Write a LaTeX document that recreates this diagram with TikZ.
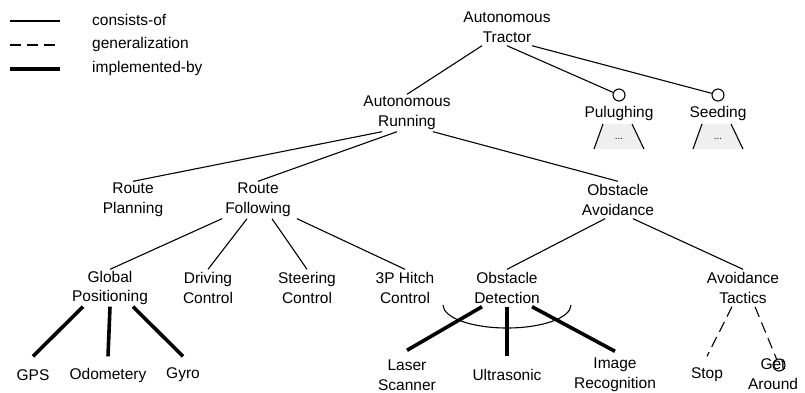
\documentclass[tikz,border=0pt]{standalone}
\usepackage{fontspec}
\setmainfont{Liberation Sans}
\definecolor{subFill}{HTML}{EFEFEF}

\begin{document}
\begin{tikzpicture}[x=1pt, y=1pt,
    every node/.style={font=\fontsize{15.5}{19.5}\selectfont},
    feat/.style={align=center, inner sep=1pt, minimum height=37pt},
    cons/.style={line width=1.1pt},
    gen/.style={line width=1.1pt, dash pattern=on 11pt off 6pt},
    impl/.style={line width=3.6pt},
    opt/.style={circle, draw, line width=1.1pt, inner sep=0pt, minimum size=12pt}]
    \useasboundingbox (0,0) rectangle (805,-392);

    \draw[cons] (10,-21) -- (60,-21);
    \draw[gen] (10,-45) -- (60,-45);
    \draw[impl] (10,-69) -- (60,-69);
    \node[anchor=west, inner sep=0pt] (lcons) at (92,-20) {consists-of};
    \node[anchor=west, inner sep=0pt] (lgen) at (92,-44) {generalization};
    \node[anchor=west, inner sep=0pt] (limpl) at (92,-68) {implemented-by};

    \node[feat] (tractor) at (507,-27) {Autonomous\\Tractor};
    \node[feat] (running) at (407,-113) {Autonomous\\Running};
    \node[feat] (plough) at (619,-113) {Pulughing};
    \node[feat] (seeding) at (718,-113) {Seeding};
    \node[opt] (ploughopt) at (619,-95) {};
    \node[opt] (seedopt) at (718,-95) {};

    \fill[subFill] (603,-124) -- (632,-124) -- (644,-149) -- (594,-149) -- cycle;
    \draw[cons] (603,-124) -- (594,-149) (632,-124) -- (644,-149);
    \node[font=\fontsize{10}{12}\selectfont] (ploughsub) at (619,-139) {...};
    \fill[subFill] (702,-124) -- (731,-124) -- (743,-149) -- (693,-149) -- cycle;
    \draw[cons] (702,-124) -- (693,-149) (731,-124) -- (743,-149);
    \node[font=\fontsize{10}{12}\selectfont] (seedsub) at (718,-139) {...};

    \node[feat] (planning) at (133,-200) {Route\\Planning};
    \node[feat] (following) at (258,-200) {Route\\Following};
    \node[feat] (avoidance) at (618,-200) {Obstacle\\Avoidance};

    \node[feat] (global) at (110,-288) {Global\\Positioning};
    \node[feat] (driving) at (208,-288) {Driving\\Control};
    \node[feat] (steering) at (307,-288) {Steering\\Control};
    \node[feat] (hitch) at (405,-288) {3P Hitch\\Control};
    \node[feat] (detection) at (507,-288) {Obstacle\\Detection};
    \node[feat] (tactics) at (743,-288) {Avoidance\\Tactics};

    \node[feat] (gps) at (33,-375) {GPS};
    \node[feat] (odometry) at (108,-375) {Odometery};
    \node[feat] (gyro) at (183,-375) {Gyro};
    \node[feat] (laser) at (407,-375) {Laser\\Scanner};
    \node[feat] (ultrasonic) at (507,-375) {Ultrasonic};
    \node[feat] (image) at (615,-375) {Image\\Recognition};
    \node[feat] (stop) at (707,-375) {Stop};
    \node[feat] (around) at (773,-374) {Get\\Around};
    \node[opt] (aroundopt) at (779,-365) {};

    \draw[cons] ([xshift=-25pt]tractor.south) -- (running.north);
    \draw[cons] (tractor.south) -- (ploughopt);
    \draw[cons] ([xshift=25pt]tractor.south) -- (seedopt);

    \draw[cons] ([xshift=-25pt]running.south) -- (planning.north);
    \draw[cons] ([xshift=-10pt]running.south) -- (following.north);
    \draw[cons] ([xshift=26pt]running.south) -- (avoidance.north);

    \draw[cons] ([xshift=-36pt]following.south) -- (global.north);
    \draw[cons] ([xshift=-11pt]following.south) -- (driving.north);
    \draw[cons] ([xshift=14pt]following.south) -- (steering.north);
    \draw[cons] ([xshift=39pt]following.south) -- (hitch.north);

    \draw[cons] ([xshift=-13pt]avoidance.south) -- (detection.north);
    \draw[cons] ([xshift=15pt]avoidance.south) -- (tactics.north);

    \draw[impl] ([xshift=-27pt]global.south) -- (gps.north);
    \draw[impl] (global.south) -- (odometry.north);
    \draw[impl] ([xshift=23pt]global.south) -- (gyro.north);

    \draw[impl] ([xshift=-25pt]detection.south) -- ([yshift=6pt]laser.north);
    \draw[impl] (detection.south) -- (ultrasonic.north);
    \draw[impl] ([xshift=25pt]detection.south) -- ([yshift=5pt]image.north);
    \draw[cons] ([xshift=-64pt,yshift=-17pt]detection.center)
      arc[start angle=180, end angle=360, x radius=64pt, y radius=23pt];

    \draw[gen] ([xshift=-11pt]tactics.south) -- (stop.north);
    \draw[gen] ([xshift=12pt]tactics.south) -- (aroundopt);
\end{tikzpicture}
\end{document}
